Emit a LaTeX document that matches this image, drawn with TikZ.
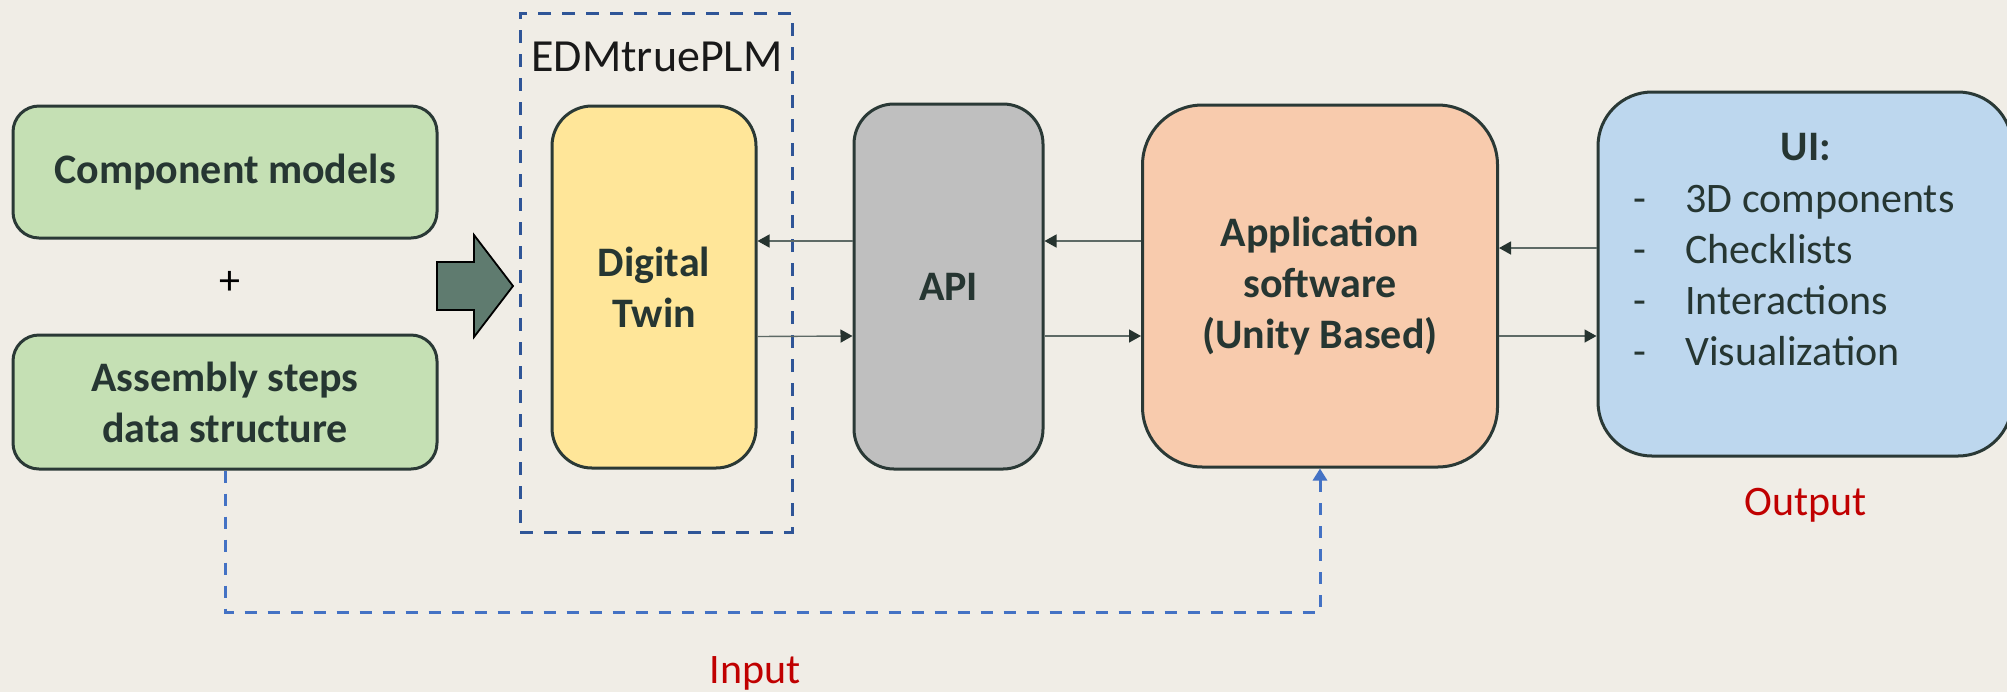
\documentclass[tikz,border=0pt]{standalone}
\usepackage{fontspec}
\setmainfont{Carlito}
\usetikzlibrary{arrows.meta}
\definecolor{bg}{HTML}{F0EDE6}
\definecolor{edge}{HTML}{2A3936}
\definecolor{ink}{HTML}{263632}
\definecolor{greenfill}{HTML}{C5E0B4}
\definecolor{yellowfill}{HTML}{FFE699}
\definecolor{grayfill}{HTML}{BFBFBF}
\definecolor{orangefill}{HTML}{F8CBAD}
\definecolor{bluefill}{HTML}{BDD7EE}
\definecolor{bigarrow}{HTML}{5F7B6F}
\definecolor{linecol}{HTML}{5E6A66}
\definecolor{tipcol}{HTML}{26332F}
\definecolor{darkblue}{HTML}{2F5597}
\definecolor{midblue}{HTML}{4472C4}
\definecolor{redtext}{HTML}{C00000}
\begin{document}
\begin{tikzpicture}[x=0.5pt,y=-0.5pt,
  blk/.style={draw=edge, line width=1.5pt, rounded corners=#1, inner sep=0pt,
    align=center, text=ink, font=\fontsize{21}{25.5}\selectfont\bfseries},
  blk/.default=13pt,
  conn/.style={draw=linecol, line width=0.7pt,
    -{Triangle[length=6pt,width=6.5pt,color=tipcol]}},
  plain/.style={inner sep=0pt, font=\fontsize{21}{25.5}\selectfont, text=ink},
  inputline/.style={draw=midblue, line width=1.5pt, dash pattern=on 6pt off 5.5pt,
    -{Triangle[length=6pt,width=7pt]}},
  group/.style={draw=darkblue, line width=1.5pt, dash pattern=on 6.5pt off 5.5pt}
]
\useasboundingbox (0,0) rectangle (2007,692);
\fill[bg] (0,0) rectangle (2007,692);

% left inputs
\node[blk, fill=greenfill, minimum width=212pt, minimum height=66pt] (cm) at (225,172) {Component models};
\node[blk, fill=greenfill, minimum width=212pt, minimum height=67pt] (asm) at (225,402) {Assembly steps\\data structure};
\node[plain, text=black] (plus) at (230,283) {+};

% big arrow
\coordinate (ba) at (437,286);
\draw[fill=bigarrow, draw=black, line width=0.9pt, line join=miter]
  (ba) ++(0,-24) -- ++(37,0) -- ++(0,-27) -- ++(39,51) -- ++(-39,51) -- ++(0,-27) -- ++(-37,0) -- cycle;

% EDMtruePLM group
\node[group, minimum width=136pt, minimum height=259.5pt, inner sep=0pt] (edm) at (656,272.5) {};
\node[inner sep=0pt, font=\fontsize{23}{27}\selectfont, text=black!90] (edmlabel) at (657,57) {EDMtruePLM};

% main blocks
\node[blk=20pt, fill=yellowfill, minimum width=102pt, minimum height=181pt] (dt) at (654,287) {Digital\\Twin};
\node[blk=20pt, fill=grayfill, minimum width=94.5pt, minimum height=182.5pt] (api) at (948.5,286.5) {API};
\node[blk=30pt, fill=orangefill, minimum width=177.5pt, minimum height=181pt] (app) at (1320,286) {Application\\software\\(Unity Based)};

\begin{scope}
\clip (0,0) rectangle (2007,692);
\node[blk=27pt, fill=bluefill, minimum width=207pt, minimum height=182pt] (ui) at (1805,274) {};
\end{scope}
\node[inner sep=0pt, font=\fontsize{21}{25.5}\selectfont\bfseries, text=ink, anchor=base] (uititle) at (1806,160) {UI:};
\node[plain, anchor=base west] (ui1) at (1633,212) {\makebox[26pt][l]{-}3D components};
\node[plain, anchor=base west] (ui2) at (1633,263) {\makebox[26pt][l]{-}Checklists};
\node[plain, anchor=base west] (ui3) at (1633,314) {\makebox[26pt][l]{-}Interactions};
\node[plain, anchor=base west] (ui4) at (1633,365) {\makebox[26pt][l]{-}Visualization};

% connectors
\draw[conn] ([yshift=22.75pt]api.west) -- ([yshift=22.75pt]api.west -| dt.east);
\draw[conn] ([yshift=-24.75pt]dt.east -| dt.east) -- ([yshift=-24.75pt]api.west);
\draw[conn] ([yshift=22.5pt]app.west) -- ([yshift=22.5pt]app.west -| api.east);
\draw[conn] ([yshift=-25pt]app.west -| api.east) -- ([yshift=-25pt]app.west);
\draw[conn] ([yshift=19pt]app.east -| ui.west) -- ([yshift=19pt]app.east);
\draw[conn] ([yshift=-25pt]app.east) -- ([yshift=-25pt]app.east -| ui.west);

% input line
\coordinate (bend1) at (225,612);
\coordinate (bend2) at (1320,612);
\draw[inputline] (asm.south) -- (bend1) -- (bend2) -- (app.south);

% labels
\node[plain, text=redtext] (inputlbl) at (755,673) {Input};
\node[plain, text=redtext] (outputlbl) at (1806,505) {Output};
\end{tikzpicture}
\end{document}
